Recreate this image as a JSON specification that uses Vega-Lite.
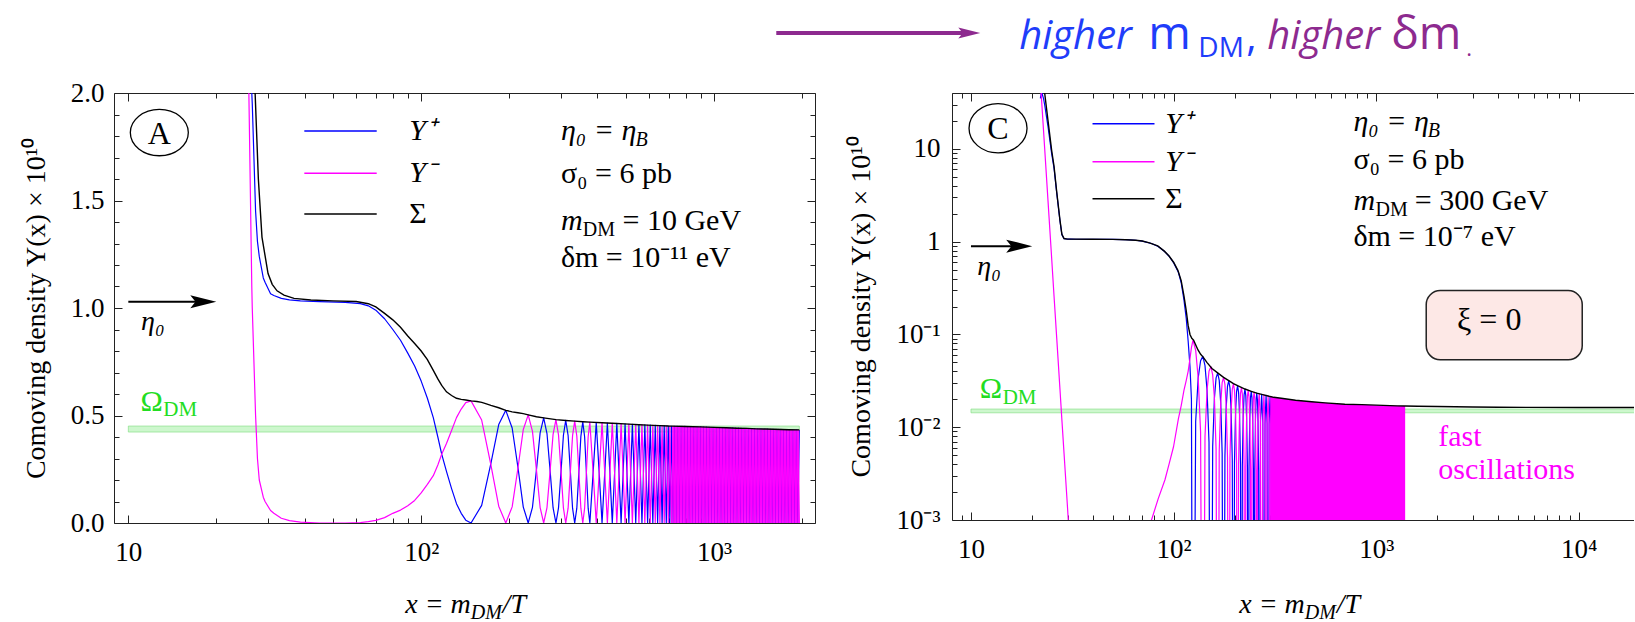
{
"$schema": "https://vega.github.io/schema/vega-lite/v6.json",
"padding": {"left": 21, "top": 12, "right": 0, "bottom": 0},
"background": "white",
"bounds": "flush",
"spacing": 137,
"config": {
 "view": {"stroke": null},
 "axis": {"labelFont": "Liberation Serif", "labelFontSize": 27, "labelColor": "#000", "tickColor": "#222", "tickWidth": 1, "domainColor": "#222", "domainWidth": 1, "grid": false, "labelFlush": false, "labelOverlap": false, "titleFont": "Liberation Serif", "titleFontSize": 28, "titleFontWeight": "normal", "titleColor": "#000"}
},
"datasets": {
"A_pm": [
{"x":22,"p":6,"m":5},{"x":25.8,"p":3.0,"m":2.0},{"x":26.4,"p":2.0,"m":1.1},{"x":26.5,"p":1.95,"m":1.0},{"x":27.2,"p":1.45,"m":0.5},{"x":27.6,"p":1.31,"m":0.3},{"x":28,"p":1.24,"m":0.2},{"x":28.9,"p":1.14,"m":0.12},{"x":29.3,"p":1.12,"m":0.1},{"x":30.6,"p":1.066,"m":0.058},{"x":31.4,"p":1.058,"m":0.045},{"x":33.3,"p":1.045,"m":0.022},{"x":35.5,"p":1.038,"m":0.011},{"x":38.7,"p":1.033,"m":0.004},{"x":45,"p":1.03,"m":0},{"x":55,"p":1.026,"m":0},{"x":62,"p":1.02,"m":0.002},{"x":66,"p":1.01,"m":0.006},{"x":70,"p":0.99,"m":0.012},{"x":75,"p":0.95,"m":0.025},{"x":80,"p":0.9,"m":0.045},{"x":85,"p":0.85,"m":0.06},{"x":90,"p":0.79,"m":0.08},{"x":95,"p":0.73,"m":0.105},{"x":100,"p":0.66,"m":0.14},{"x":105,"p":0.58,"m":0.18},{"x":110,"p":0.49,"m":0.22},{"x":114,"p":0.4,"m":0.27},{"x":117.5,"p":0.32,"m":0.32},{"x":122,"p":0.24,"m":0.37},{"x":127,"p":0.16,"m":0.43},{"x":132,"p":0.09,"m":0.49},{"x":137,"p":0.045,"m":0.53},{"x":142,"p":0.013,"m":0.56},{"x":148,"p":0,"m":0.568},
{"x":160.9,"p":0.082,"m":0.479},{"x":172.8,"p":0.274,"m":0.274},{"x":184,"p":0.458,"m":0.078},{"x":194.5,"p":0.524,"m":0},
{"x":204.5,"p":0.442,"m":0.075},{"x":214.1,"p":0.257,"m":0.257},{"x":223.2,"p":0.074,"m":0.435},{"x":232,"p":0,"m":0.503},
{"x":239.9,"p":0.073,"m":0.426},{"x":247.5,"p":0.247,"m":0.247},{"x":254.8,"p":0.419,"m":0.072},{"x":262,"p":0.489,"m":0},
{"x":268.9,"p":0.416,"m":0.071},{"x":275.6,"p":0.243,"m":0.243},{"x":282.1,"p":0.071,"m":0.412},{"x":288.5,"p":0,"m":0.481},
{"x":294.4,"p":0.07,"m":0.41},{"x":300.3,"p":0.24,"m":0.24},{"x":306,"p":0.408,"m":0.07},{"x":311.6,"p":0.477,"m":0},
{"x":317.5,"p":0.407,"m":0.069},{"x":323.2,"p":0.238,"m":0.238},{"x":328.8,"p":0.069,"m":0.406},{"x":334.4,"p":0,"m":0.474},
{"x":340,"p":0.069,"m":0.404},{"x":345.5,"p":0.236,"m":0.236},{"x":351,"p":0.403,"m":0.069},{"x":356.3,"p":0.471,"m":0},
{"x":361.5,"p":0.401,"m":0.069},{"x":366.6,"p":0.235,"m":0.235},{"x":371.7,"p":0.069,"m":0.401},{"x":376.7,"p":0,"m":0.469},
{"x":386.5,"p":0.234,"m":0.234},{"x":396.1,"p":0.467,"m":0},{"x":405.4,"p":0.233,"m":0.233},{"x":414.6,"p":0,"m":0.466},
{"x":423.5,"p":0.233,"m":0.233},{"x":432.3,"p":0.465,"m":0},{"x":440.9,"p":0.232,"m":0.232},{"x":449.3,"p":0,"m":0.464},
{"x":457.6,"p":0.232,"m":0.232},{"x":465.7,"p":0.463,"m":0},{"x":473.7,"p":0.231,"m":0.231},{"x":481.6,"p":0,"m":0.462},
{"x":489.3,"p":0.231,"m":0.231},{"x":496.9,"p":0.461,"m":0},{"x":504.4,"p":0.23,"m":0.23},{"x":511.8,"p":0,"m":0.46},
{"x":519.1,"p":0.23,"m":0.23},{"x":526.2,"p":0.459,"m":0},{"x":533.4,"p":0.229,"m":0.229},{"x":540.3,"p":0,"m":0.458},
{"x":547.2,"p":0.229,"m":0.229},{"x":554,"p":0.457,"m":0},{"x":560.7,"p":0.228,"m":0.228},{"x":567.4,"p":0,"m":0.457},
{"x":574,"p":0.228,"m":0.228},{"x":580.4,"p":0.456,"m":0},{"x":586.9,"p":0.228,"m":0.228},{"x":593.2,"p":0,"m":0.455},
{"x":605.7,"p":0.455,"m":0},{"x":618,"p":0,"m":0.454},{"x":630,"p":0.454,"m":0},{"x":641.8,"p":0,"m":0.453},{"x":653.4,"p":0.453,"m":0},{"x":664.8,"p":0,"m":0.452},{"x":675.9,"p":0.452,"m":0},{"x":687,"p":0,"m":0.451},{"x":697.8,"p":0.451,"m":0},
{"x":706.6,"p":0,"m":0.451},{"x":715.6,"p":0.45,"m":0},{"x":724.6,"p":0,"m":0.45},{"x":733.8,"p":0.45,"m":0},{"x":743.1,"p":0,"m":0.45},{"x":752.5,"p":0.449,"m":0},{"x":762,"p":0,"m":0.449},{"x":771.6,"p":0.449,"m":0},{"x":781.4,"p":0,"m":0.449},{"x":791.3,"p":0.449,"m":0},{"x":801.3,"p":0,"m":0.449},{"x":811.4,"p":0.448,"m":0},{"x":821.7,"p":0,"m":0.448},{"x":832.1,"p":0.448,"m":0},{"x":842.6,"p":0,"m":0.448},{"x":853.3,"p":0.448,"m":0},{"x":864.1,"p":0,"m":0.447},{"x":875,"p":0.447,"m":0},{"x":886.1,"p":0,"m":0.447},{"x":897.3,"p":0.447,"m":0},{"x":908.6,"p":0,"m":0.447},{"x":920.1,"p":0.446,"m":0},{"x":931.7,"p":0,"m":0.446},{"x":943.5,"p":0.446,"m":0},{"x":955.5,"p":0,"m":0.446},{"x":967.6,"p":0.445,"m":0},{"x":979.8,"p":0,"m":0.445},{"x":992.2,"p":0.445,"m":0},{"x":1004.7,"p":0,"m":0.445},{"x":1017.4,"p":0.444,"m":0},{"x":1030.3,"p":0,"m":0.444},{"x":1043.3,"p":0.444,"m":0},{"x":1056.5,"p":0,"m":0.444},{"x":1069.9,"p":0.443,"m":0},{"x":1083.4,"p":0,"m":0.443},{"x":1097.1,"p":0.443,"m":0},{"x":1111,"p":0,"m":0.443},{"x":1125,"p":0.442,"m":0},{"x":1139.3,"p":0,"m":0.442},{"x":1153.7,"p":0.442,"m":0},{"x":1168.3,"p":0,"m":0.442},{"x":1183,"p":0.441,"m":0},{"x":1198,"p":0,"m":0.441},{"x":1213.2,"p":0.441,"m":0},{"x":1228.5,"p":0,"m":0.441},{"x":1244,"p":0.44,"m":0},{"x":1259.8,"p":0,"m":0.44},{"x":1275.7,"p":0.44,"m":0},{"x":1291.8,"p":0,"m":0.44},{"x":1308.2,"p":0.439,"m":0},{"x":1324.7,"p":0,"m":0.439},{"x":1341.5,"p":0.439,"m":0},{"x":1358.4,"p":0,"m":0.439},{"x":1375.6,"p":0.439,"m":0},{"x":1393,"p":0,"m":0.438},{"x":1410.6,"p":0.438,"m":0},{"x":1428.5,"p":0,"m":0.438},{"x":1446.5,"p":0.438,"m":0},{"x":1464.8,"p":0,"m":0.437},{"x":1483.3,"p":0.437,"m":0},{"x":1502.1,"p":0,"m":0.437},{"x":1521.1,"p":0.437,"m":0},{"x":1540.3,"p":0,"m":0.436},{"x":1559.8,"p":0.436,"m":0},{"x":1579.5,"p":0,"m":0.436},{"x":1599.5,"p":0.436,"m":0},{"x":1619.7,"p":0,"m":0.435},{"x":1640.2,"p":0.435,"m":0},{"x":1660.9,"p":0,"m":0.435},{"x":1681.9,"p":0.435,"m":0},{"x":1703.2,"p":0,"m":0.435},{"x":1724.7,"p":0.434,"m":0},{"x":1746.5,"p":0,"m":0.434},{"x":1768.6,"p":0.434,"m":0},{"x":1791,"p":0,"m":0.434},{"x":1813.7,"p":0.434,"m":0},{"x":1836.6,"p":0,"m":0.433},{"x":1859.8,"p":0.433,"m":0},{"x":1883.4,"p":0,"m":0.433},{"x":1907.2,"p":0.433,"m":0},{"x":1931.3,"p":0,"m":0.433},{"x":1955.7,"p":0.433,"m":0}
],
"A_s": [
{"x":22,"s":8},{"x":26,"s":3.1},{"x":27.1,"s":2.0},{"x":27.8,"s":1.6},{"x":28.6,"s":1.33},{"x":30,"s":1.16},{"x":31,"s":1.11},{"x":32.2,"s":1.08},{"x":34,"s":1.06},{"x":36.8,"s":1.045},{"x":42,"s":1.037},{"x":50,"s":1.033},{"x":60,"s":1.03},{"x":66,"s":1.02},{"x":70,"s":1.005},{"x":75,"s":0.975},{"x":80,"s":0.945},{"x":85,"s":0.91},{"x":90,"s":0.87},{"x":95,"s":0.835},{"x":100,"s":0.8},{"x":105,"s":0.76},{"x":110,"s":0.71},{"x":114,"s":0.67},{"x":117.5,"s":0.64},{"x":122,"s":0.61},{"x":127,"s":0.593},{"x":132,"s":0.58},{"x":137,"s":0.575},{"x":142,"s":0.572},{"x":148,"s":0.568},{"x":155,"s":0.565},{"x":161,"s":0.561},{"x":167,"s":0.554},{"x":173,"s":0.547},{"x":184,"s":0.536},{"x":194.5,"s":0.524},{"x":204.5,"s":0.517},{"x":214,"s":0.513},{"x":223,"s":0.509},{"x":232,"s":0.503},{"x":247.5,"s":0.494},{"x":262,"s":0.489},{"x":288.5,"s":0.481},{"x":311.6,"s":0.477},{"x":334.4,"s":0.474},{"x":356.3,"s":0.471},{"x":376.7,"s":0.469},{"x":414.6,"s":0.466},{"x":465.7,"s":0.463},{"x":511.8,"s":0.46},{"x":554,"s":0.457},{"x":593.2,"s":0.455},{"x":653.4,"s":0.453},{"x":697.8,"s":0.451},{"x":720,"s":0.4505},{"x":800,"s":0.449},{"x":900,"s":0.447},{"x":1000,"s":0.445},{"x":1100,"s":0.443},{"x":1200,"s":0.441},{"x":1300,"s":0.44},{"x":1400,"s":0.438},{"x":1500,"s":0.437},{"x":1600,"s":0.436},{"x":1700,"s":0.435},{"x":1800,"s":0.434},{"x":1955.7,"s":0.433}
],
"C_pm": [
{"x":22,"p":35,"m":55},{"x":22.3,"p":41,"m":34},{"x":22.8,"p":35,"m":16},{"x":23.1,"p":30,"m":10.2},{"x":24,"p":17.4,"m":2.75},{"x":25,"p":9.0,"m":0.68},{"x":25.7,"p":6.2,"m":0.26},{"x":26.5,"p":3.34,"m":0.0913},{"x":27.5,"p":1.67,"m":0.0255},{"x":28.1,"p":1.19,"m":0.012},{"x":28.8,"p":1.075,"m":0.0052},{"x":30,"p":1.064,"m":0.0013},{"x":30.5,"p":1.063,"m":0.0007},{"x":31,"p":1.062,"m":0.0004},{"x":33,"p":1.061,"m":1e-7},{"x":40,"p":1.06,"m":1e-7},{"x":50,"p":1.058,"m":1e-7},{"x":58,"p":1.05,"m":1e-7},{"x":65,"p":1.035,"m":1e-7},{"x":70,"p":1.015,"m":0.0004},{"x":77.8,"p":0.954,"m":0.001},{"x":84,"p":0.888,"m":0.0017},{"x":90.6,"p":0.777,"m":0.0027},{"x":95,"p":0.696,"m":0.004},{"x":100,"p":0.594,"m":0.0062},{"x":105.6,"p":0.468,"m":0.0123},{"x":109,"p":0.363,"m":0.017},{"x":112.5,"p":0.235,"m":0.025},{"x":115.5,"p":0.148,"m":0.032},{"x":118,"p":0.085,"m":0.04},{"x":120.5,"p":0.045,"m":0.055},{"x":122.5,"p":0.02,"m":0.072},{"x":124.7,"p":1e-7,"m":0.087},
{"x":128.55,"p":0.0115,"m":0.0675},{"x":132.29,"p":0.034,"m":0.034},{"x":135.92,"p":0.052,"m":0.0089},{"x":139.46,"p":0.058,"m":1e-7},
{"x":142.92,"p":0.0461,"m":0.0079},{"x":146.29,"p":0.025,"m":0.025},{"x":149.58,"p":0.0069,"m":0.0401},{"x":152.81,"p":1e-7,"m":0.045},
{"x":155.96,"p":0.0062,"m":0.0366},{"x":159.06,"p":0.0206,"m":0.0206},{"x":162.1,"p":0.034,"m":0.0058},{"x":165.08,"p":0.0385,"m":1e-7},
{"x":168,"p":0.032,"m":0.0055},{"x":170.88,"p":0.0183,"m":0.0183},{"x":173.71,"p":0.0052,"m":0.0303},{"x":176.49,"p":1e-7,"m":0.0345},
{"x":179.24,"p":0.0049,"m":0.0289},{"x":181.93,"p":0.0166,"m":0.0166},{"x":184.59,"p":0.0277,"m":0.0047},{"x":187.22,"p":0.0318,"m":1e-7},
{"x":189.8,"p":0.0266,"m":0.0046},{"x":192.35,"p":0.0153,"m":0.0153},{"x":194.87,"p":0.0044,"m":0.0256},{"x":197.36,"p":1e-7,"m":0.0295},
{"x":199.81,"p":0.0042,"m":0.0249},{"x":202.24,"p":0.0144,"m":0.0144},{"x":204.63,"p":0.0243,"m":0.0041},{"x":207,"p":0.028,"m":1e-7},
{"x":209.34,"p":0.0237,"m":0.004},{"x":211.66,"p":0.0137,"m":0.0137},{"x":213.95,"p":0.004,"m":0.0231},{"x":216.22,"p":1e-7,"m":0.0268},
{"x":218.46,"p":0.0039,"m":0.0227},{"x":220.68,"p":0.0132,"m":0.0132},{"x":222.88,"p":0.0223,"m":0.0038},{"x":225.06,"p":0.0258,"m":1e-7},
{"x":227.21,"p":0.0219,"m":0.0037},{"x":229.35,"p":0.0127,"m":0.0127},{"x":231.46,"p":0.0037,"m":0.0215},{"x":233.56,"p":1e-7,"m":0.025},
{"x":235.64,"p":0.0036,"m":0.0212},{"x":237.7,"p":0.0123,"m":0.0123},{"x":239.74,"p":0.0209,"m":0.0036},{"x":241.76,"p":0.0243,"m":1e-7},
{"x":243.77,"p":0.0207,"m":0.0035},{"x":245.76,"p":0.012,"m":0.012},{"x":247.74,"p":0.0035,"m":0.0204},{"x":249.7,"p":1e-7,"m":0.0238},
{"x":251.64,"p":0.0035,"m":0.0202},{"x":253.57,"p":0.0118,"m":0.0118},{"x":255.49,"p":0.02,"m":0.0034},{"x":257.39,"p":0.0233,"m":1e-7},
{"x":259.28,"p":0.0198,"m":0.0034},{"x":261.15,"p":0.0116,"m":0.0116},{"x":263.01,"p":0.0034,"m":0.0196},{"x":264.86,"p":1e-7,"m":0.0229},
{"x":268.51,"p":0.0114,"m":0.0114},{"x":272.12,"p":0.0226,"m":1e-7},{"x":275.68,"p":0.0112,"m":0.0112},{"x":279.2,"p":1e-7,"m":0.0223},{"x":282.67,"p":0.011,"m":0.011},{"x":286.09,"p":0.022,"m":1e-7},{"x":289.48,"p":0.0109,"m":0.0109},{"x":292.83,"p":1e-7,"m":0.0217},{"x":296.14,"p":0.0108,"m":0.0108},{"x":299.42,"p":0.0214,"m":1e-7},{"x":302.65,"p":0.0106,"m":0.0106},{"x":305.86,"p":1e-7,"m":0.0212},{"x":309.03,"p":0.0105,"m":0.0105},{"x":312.17,"p":0.021,"m":1e-7}
],
"C_s": [
{"x":22,"s":90},{"x":22.3,"s":75},{"x":23.1,"s":40},{"x":24,"s":20.2},{"x":25,"s":9.7},{"x":25.7,"s":6.5},{"x":26.5,"s":3.43},{"x":27.5,"s":1.7},{"x":28.1,"s":1.2},{"x":28.8,"s":1.08},{"x":30,"s":1.065},{"x":40,"s":1.06},{"x":50,"s":1.058},{"x":58,"s":1.05},{"x":65,"s":1.035},{"x":70,"s":1.015},{"x":76,"s":0.97},{"x":83.5,"s":0.9},{"x":90,"s":0.79},{"x":95,"s":0.7},{"x":100,"s":0.6},{"x":105,"s":0.49},{"x":109,"s":0.38},{"x":112.5,"s":0.26},{"x":115.5,"s":0.18},{"x":118,"s":0.125},{"x":120.5,"s":0.1},{"x":123,"s":0.091},{"x":125.5,"s":0.087},{"x":128,"s":0.079},{"x":132,"s":0.068},{"x":136,"s":0.061},{"x":140,"s":0.057},{"x":146,"s":0.05},{"x":154.7,"s":0.043},{"x":165,"s":0.0385},{"x":176.5,"s":0.0345},{"x":187.2,"s":0.0318},{"x":197.4,"s":0.0295},{"x":207,"s":0.028},{"x":225,"s":0.0258},{"x":241.8,"s":0.0243},{"x":257.4,"s":0.0233},{"x":272,"s":0.0226},{"x":292.8,"s":0.0217},{"x":300,"s":0.0214},{"x":312,"s":0.021},{"x":340,"s":0.0205},{"x":400,"s":0.0195},{"x":480,"s":0.0188},{"x":560,"s":0.0183},{"x":700,"s":0.0177},{"x":850,"s":0.0175},{"x":1000,"s":0.0173},{"x":1270,"s":0.017},{"x":1390,"s":0.0169},{"x":1600,"s":0.0168},{"x":2000,"s":0.0167},{"x":3000,"s":0.0165},{"x":4000,"s":0.0164},{"x":10000,"s":0.0163},{"x":20000,"s":0.0163}
]
},
"hconcat": [
{
 "width": 701, "height": 430,
 "view": {"stroke": "#222", "strokeWidth": 1},
 "data": {"values": [{}]},
 "resolve": {"axis": {"x": "independent", "y": "independent"}},
 "layer": [
  {"mark": {"type": "rect", "fill": "#90ee90", "fillOpacity": 0.45, "stroke": "#7ddc7d", "strokeOpacity": 0.6, "strokeWidth": 1, "clip": true},
   "encoding": {
    "x": {"datum": 10, "type": "quantitative", "scale": {"type": "log", "domain": [8.935, 2212], "nice": false}, "axis": {"orient": "bottom", "values": [10, 100, 1000], "labelExpr": "datum.value == 10 ? '10' : datum.value == 100 ? '10²' : '10³'", "tickSize": -8, "labelPadding": 24, "domain": false, "title": null}},
    "x2": {"datum": 1955.7},
    "y": {"datum": 0.423, "type": "quantitative", "scale": {"domain": [0, 2], "nice": false, "zero": false}, "axis": {"orient": "left", "values": [0, 0.5, 1, 1.5, 2], "format": ".1f", "tickSize": -8, "labelPadding": 18, "domain": false, "title": "Comoving density  Y(x) × 10¹⁰", "titlePadding": 20}},
    "y2": {"datum": 0.451}}},
  {"data": {"name": "A_pm"}, "mark": {"type": "line", "color": "#0000ff", "strokeWidth": 1.2, "strokeJoin": "round", "clip": true},
   "encoding": {
    "x": {"field": "x", "type": "quantitative", "scale": {"type": "log", "domain": [8.935, 2212], "nice": false}, "axis": {"orient": "bottom", "values": [20,30,40,50,60,70,80,90,200,300,400,500,600,700,800,900,2000], "labels": false, "tickSize": -5, "domain": false, "title": null}},
    "y": {"field": "p", "type": "quantitative", "scale": {"domain": [0, 2], "nice": false, "zero": false}, "axis": {"orient": "left", "values": [0.1,0.2,0.3,0.4,0.6,0.7,0.8,0.9,1.1,1.2,1.3,1.4,1.6,1.7,1.8,1.9], "labels": false, "tickSize": -5, "domain": false, "title": null}}}},
  {"data": {"name": "A_s"}, "transform": [{"filter": "datum.x >= 720"}], "mark": {"type": "area", "color": "#ff00ff", "opacity": 0.8, "clip": true},
   "encoding": {
    "x": {"field": "x", "type": "quantitative", "scale": {"type": "log", "domain": [8.935, 2212], "nice": false}, "axis": null},
    "y": {"field": "s", "type": "quantitative", "scale": {"domain": [0, 2], "nice": false, "zero": false}, "axis": null},
    "y2": {"datum": 0}}},
  {"data": {"name": "A_pm"}, "mark": {"type": "line", "color": "#ff00ff", "strokeWidth": 1.2, "strokeJoin": "round", "clip": true},
   "encoding": {
    "x": {"field": "x", "type": "quantitative", "scale": {"type": "log", "domain": [8.935, 2212], "nice": false}, "axis": {"orient": "top", "values": [10, 100, 1000], "labels": false, "tickSize": -8, "domain": false, "title": null}},
    "y": {"field": "m", "type": "quantitative", "scale": {"domain": [0, 2], "nice": false, "zero": false}, "axis": {"orient": "right", "values": [0, 0.5, 1, 1.5, 2], "labels": false, "tickSize": -8, "domain": false, "title": null}}}},
  {"data": {"name": "A_s"}, "mark": {"type": "line", "color": "#000000", "strokeWidth": 1.4, "clip": true},
   "encoding": {
    "x": {"field": "x", "type": "quantitative", "scale": {"type": "log", "domain": [8.935, 2212], "nice": false}, "axis": {"orient": "top", "values": [20,30,40,50,60,70,80,90,200,300,400,500,600,700,800,900,2000], "labels": false, "tickSize": -5, "domain": false, "title": null}},
    "y": {"field": "s", "type": "quantitative", "scale": {"domain": [0, 2], "nice": false, "zero": false}, "axis": {"orient": "right", "values": [0.1,0.2,0.3,0.4,0.6,0.7,0.8,0.9,1.1,1.2,1.3,1.4,1.6,1.7,1.8,1.9], "labels": false, "tickSize": -5, "domain": false, "title": null}}}},
  {"mark": {"type": "rule", "stroke": "#0000ff", "strokeWidth": 1.5},
   "encoding": {"x": {"datum": 39.9, "type": "quantitative", "scale": {"type": "log", "domain": [8.935, 2212], "nice": false}, "axis": null}, "x2": {"datum": 70.5}, "y": {"datum": 1.823, "type": "quantitative", "scale": {"domain": [0, 2], "nice": false, "zero": false}, "axis": null}}},
  {"mark": {"type": "rule", "stroke": "#ff00ff", "strokeWidth": 1.5},
   "encoding": {"x": {"datum": 39.9, "type": "quantitative", "scale": {"type": "log", "domain": [8.935, 2212], "nice": false}, "axis": null}, "x2": {"datum": 70.5}, "y": {"datum": 1.6265, "type": "quantitative", "scale": {"domain": [0, 2], "nice": false, "zero": false}, "axis": null}}},
  {"mark": {"type": "rule", "stroke": "#000000", "strokeWidth": 1.5},
   "encoding": {"x": {"datum": 39.9, "type": "quantitative", "scale": {"type": "log", "domain": [8.935, 2212], "nice": false}, "axis": null}, "x2": {"datum": 70.5}, "y": {"datum": 1.437, "type": "quantitative", "scale": {"domain": [0, 2], "nice": false, "zero": false}, "axis": null}}},
  {"mark": {"type": "text", "align": "left", "baseline": "middle", "font": "Liberation Serif", "fontSize": 30, "fontStyle": "italic", "color": "#000"},
   "encoding": {"x": {"datum": 91, "type": "quantitative", "scale": {"type": "log", "domain": [8.935, 2212], "nice": false}, "axis": null}, "y": {"datum": 1.823, "type": "quantitative", "scale": {"domain": [0, 2], "nice": false, "zero": false}, "axis": null}, "text": {"value": "Y⁺"}}},
  {"mark": {"type": "text", "align": "left", "baseline": "middle", "font": "Liberation Serif", "fontSize": 30, "fontStyle": "italic", "color": "#000"},
   "encoding": {"x": {"datum": 91, "type": "quantitative", "scale": {"type": "log", "domain": [8.935, 2212], "nice": false}, "axis": null}, "y": {"datum": 1.6265, "type": "quantitative", "scale": {"domain": [0, 2], "nice": false, "zero": false}, "axis": null}, "text": {"value": "Y⁻"}}},
  {"mark": {"type": "text", "align": "left", "baseline": "middle", "font": "Liberation Serif", "fontSize": 30, "color": "#000"},
   "encoding": {"x": {"datum": 91, "type": "quantitative", "scale": {"type": "log", "domain": [8.935, 2212], "nice": false}, "axis": null}, "y": {"datum": 1.437, "type": "quantitative", "scale": {"domain": [0, 2], "nice": false, "zero": false}, "axis": null}, "text": {"value": "Σ"}}},
  {"mark": {"type": "point", "shape": "M-1,0A1,0.8,0,1,0,1,0A1,0.8,0,1,0,-1,0Z", "size": 3364, "filled": false, "stroke": "#000", "strokeWidth": 1.3, "opacity": 1},
   "encoding": {"x": {"datum": 12.76, "type": "quantitative", "scale": {"type": "log", "domain": [8.935, 2212], "nice": false}, "axis": null}, "y": {"datum": 1.816, "type": "quantitative", "scale": {"domain": [0, 2], "nice": false, "zero": false}, "axis": null}}},
  {"mark": {"type": "text", "align": "center", "baseline": "middle", "font": "Liberation Serif", "fontSize": 32, "color": "#000", "dy": 1},
   "encoding": {"x": {"datum": 12.76, "type": "quantitative", "scale": {"type": "log", "domain": [8.935, 2212], "nice": false}, "axis": null}, "y": {"datum": 1.816, "type": "quantitative", "scale": {"domain": [0, 2], "nice": false, "zero": false}, "axis": null}, "text": {"value": "A"}}},
  {"mark": {"type": "text", "align": "left", "baseline": "alphabetic", "font": "Liberation Serif", "fontSize": 30, "fontStyle": "italic", "color": "#000"},
   "encoding": {"x": {"datum": 300, "type": "quantitative", "scale": {"type": "log", "domain": [8.935, 2212], "nice": false}, "axis": null}, "y": {"datum": 1.781, "type": "quantitative", "scale": {"domain": [0, 2], "nice": false, "zero": false}, "axis": null}, "text": {"value": "η₀ = η"}}},
  {"mark": {"type": "text", "align": "left", "baseline": "alphabetic", "font": "Liberation Serif", "fontSize": 20, "fontStyle": "italic", "color": "#000"},
   "encoding": {"x": {"datum": 538.8, "type": "quantitative", "scale": {"type": "log", "domain": [8.935, 2212], "nice": false}, "axis": null}, "y": {"datum": 1.753, "type": "quantitative", "scale": {"domain": [0, 2], "nice": false, "zero": false}, "axis": null}, "text": {"value": "B"}}},
  {"mark": {"type": "text", "align": "left", "baseline": "alphabetic", "font": "Liberation Serif", "fontSize": 30, "color": "#000"},
   "encoding": {"x": {"datum": 300, "type": "quantitative", "scale": {"type": "log", "domain": [8.935, 2212], "nice": false}, "axis": null}, "y": {"datum": 1.58, "type": "quantitative", "scale": {"domain": [0, 2], "nice": false, "zero": false}, "axis": null}, "text": {"value": "σ₀ = 6 pb"}}},
  {"mark": {"type": "text", "align": "left", "baseline": "alphabetic", "font": "Liberation Serif", "fontSize": 30, "fontStyle": "italic", "color": "#000"},
   "encoding": {"x": {"datum": 300, "type": "quantitative", "scale": {"type": "log", "domain": [8.935, 2212], "nice": false}, "axis": null}, "y": {"datum": 1.363, "type": "quantitative", "scale": {"domain": [0, 2], "nice": false, "zero": false}, "axis": null}, "text": {"value": "m"}}},
  {"mark": {"type": "text", "align": "left", "baseline": "alphabetic", "font": "Liberation Serif", "fontSize": 20, "color": "#000"},
   "encoding": {"x": {"datum": 356.5, "type": "quantitative", "scale": {"type": "log", "domain": [8.935, 2212], "nice": false}, "axis": null}, "y": {"datum": 1.336, "type": "quantitative", "scale": {"domain": [0, 2], "nice": false, "zero": false}, "axis": null}, "text": {"value": "DM"}}},
  {"mark": {"type": "text", "align": "left", "baseline": "alphabetic", "font": "Liberation Serif", "fontSize": 30, "color": "#000"},
   "encoding": {"x": {"datum": 487, "type": "quantitative", "scale": {"type": "log", "domain": [8.935, 2212], "nice": false}, "axis": null}, "y": {"datum": 1.363, "type": "quantitative", "scale": {"domain": [0, 2], "nice": false, "zero": false}, "axis": null}, "text": {"value": "= 10 GeV"}}},
  {"mark": {"type": "text", "align": "left", "baseline": "alphabetic", "font": "Liberation Serif", "fontSize": 30, "color": "#000"},
   "encoding": {"x": {"datum": 300, "type": "quantitative", "scale": {"type": "log", "domain": [8.935, 2212], "nice": false}, "axis": null}, "y": {"datum": 1.19, "type": "quantitative", "scale": {"domain": [0, 2], "nice": false, "zero": false}, "axis": null}, "text": {"value": "δm = 10⁻¹¹ eV"}}},
  {"mark": {"type": "rule", "stroke": "#000", "strokeWidth": 2},
   "encoding": {"x": {"datum": 10, "type": "quantitative", "scale": {"type": "log", "domain": [8.935, 2212], "nice": false}, "axis": null}, "x2": {"datum": 18.03}, "y": {"datum": 1.029, "type": "quantitative", "scale": {"domain": [0, 2], "nice": false, "zero": false}, "axis": null}}},
  {"mark": {"type": "point", "shape": "M-1,-0.5L1,0L-1,0.5L-0.6,0Z", "size": 676, "filled": true, "fill": "#000", "opacity": 1},
   "encoding": {"x": {"datum": 18.03, "type": "quantitative", "scale": {"type": "log", "domain": [8.935, 2212], "nice": false}, "axis": null}, "y": {"datum": 1.029, "type": "quantitative", "scale": {"domain": [0, 2], "nice": false, "zero": false}, "axis": null}}},
  {"mark": {"type": "text", "align": "left", "baseline": "middle", "font": "Liberation Serif", "fontSize": 28, "fontStyle": "italic", "color": "#000"},
   "encoding": {"x": {"datum": 11.05, "type": "quantitative", "scale": {"type": "log", "domain": [8.935, 2212], "nice": false}, "axis": null}, "y": {"datum": 0.936, "type": "quantitative", "scale": {"domain": [0, 2], "nice": false, "zero": false}, "axis": null}, "text": {"value": "η₀"}}},
  {"mark": {"type": "text", "align": "left", "baseline": "alphabetic", "font": "Liberation Serif", "fontSize": 30, "color": "#22dd22"},
   "encoding": {"x": {"datum": 11.0, "type": "quantitative", "scale": {"type": "log", "domain": [8.935, 2212], "nice": false}, "axis": null}, "y": {"datum": 0.519, "type": "quantitative", "scale": {"domain": [0, 2], "nice": false, "zero": false}, "axis": null}, "text": {"value": "Ω"}}},
  {"mark": {"type": "text", "align": "left", "baseline": "alphabetic", "font": "Liberation Serif", "fontSize": 21, "color": "#22dd22"},
   "encoding": {"x": {"datum": 13.16, "type": "quantitative", "scale": {"type": "log", "domain": [8.935, 2212], "nice": false}, "axis": null}, "y": {"datum": 0.496, "type": "quantitative", "scale": {"domain": [0, 2], "nice": false, "zero": false}, "axis": null}, "text": {"value": "DM"}}},
  {"mark": {"type": "text", "align": "left", "baseline": "alphabetic", "font": "Liberation Serif", "fontSize": 28, "fontStyle": "italic", "color": "#000"},
   "encoding": {"x": {"datum": 88.2, "type": "quantitative", "scale": {"type": "log", "domain": [8.935, 2212], "nice": false}, "axis": null}, "y": {"datum": -0.417, "type": "quantitative", "scale": {"domain": [0, 2], "nice": false, "zero": false}, "axis": null}, "text": {"value": "x = m"}}},
  {"mark": {"type": "text", "align": "left", "baseline": "alphabetic", "font": "Liberation Serif", "fontSize": 20, "fontStyle": "italic", "color": "#000"},
   "encoding": {"x": {"datum": 147.6, "type": "quantitative", "scale": {"type": "log", "domain": [8.935, 2212], "nice": false}, "axis": null}, "y": {"datum": -0.445, "type": "quantitative", "scale": {"domain": [0, 2], "nice": false, "zero": false}, "axis": null}, "text": {"value": "DM"}}},
  {"mark": {"type": "text", "align": "left", "baseline": "alphabetic", "font": "Liberation Serif", "fontSize": 28, "fontStyle": "italic", "color": "#000"},
   "encoding": {"x": {"datum": 189.7, "type": "quantitative", "scale": {"type": "log", "domain": [8.935, 2212], "nice": false}, "axis": null}, "y": {"datum": -0.417, "type": "quantitative", "scale": {"domain": [0, 2], "nice": false, "zero": false}, "axis": null}, "text": {"value": "/T"}}}
 ]
},
{
 "width": 682, "height": 427,
 "data": {"values": [{}]},
 "resolve": {"axis": {"x": "independent", "y": "independent"}},
 "layer": [
  {"mark": {"type": "rect", "fill": "#90ee90", "fillOpacity": 0.45, "stroke": "#7ddc7d", "strokeOpacity": 0.6, "strokeWidth": 1, "clip": true},
   "encoding": {
    "x": {"datum": 10, "type": "quantitative", "scale": {"type": "log", "domain": [8.06, 18730], "nice": false}, "axis": {"orient": "bottom", "values": [10, 100, 1000, 10000], "labelExpr": "datum.value == 10 ? '10' : datum.value == 100 ? '10²' : datum.value == 1000 ? '10³' : '10⁴'", "tickSize": -8, "labelPadding": 24, "domain": true, "title": null}},
    "x2": {"datum": 20000},
    "y": {"datum": 0.0143, "type": "quantitative", "scale": {"type": "log", "domain": [0.001, 40], "nice": false}, "axis": {"orient": "left", "values": [0.001, 0.01, 0.1, 1, 10], "labelExpr": "datum.value == 10 ? '10' : datum.value == 1 ? '1' : datum.value == 0.1 ? '10⁻¹' : datum.value == 0.01 ? '10⁻²' : '10⁻³'", "tickSize": -8, "labelPadding": 20, "domain": true, "title": "Comoving density  Y(x) × 10¹⁰", "titlePadding": 20}},
    "y2": {"datum": 0.0157}}},
  {"data": {"name": "C_pm"}, "mark": {"type": "line", "color": "#0000ff", "strokeWidth": 1.2, "strokeJoin": "round", "clip": true},
   "encoding": {
    "x": {"field": "x", "type": "quantitative", "scale": {"type": "log", "domain": [8.06, 18730], "nice": false}, "axis": {"orient": "bottom", "values": [9,20,30,40,50,60,70,80,90,200,300,400,500,600,700,800,900,2000,3000,4000,5000,6000,7000,8000,9000], "labels": false, "tickSize": -5, "domain": false, "title": null}},
    "y": {"field": "p", "type": "quantitative", "scale": {"type": "log", "domain": [0.001, 40], "nice": false}, "axis": {"orient": "left", "values": [0.002,0.003,0.004,0.005,0.006,0.007,0.008,0.009,0.02,0.03,0.04,0.05,0.06,0.07,0.08,0.09,0.2,0.3,0.4,0.5,0.6,0.7,0.8,0.9,2,3,4,5,6,7,8,9,20,30,40], "labels": false, "tickSize": -5, "domain": false, "title": null}}}},
  {"data": {"name": "C_pm"}, "mark": {"type": "line", "color": "#ff00ff", "strokeWidth": 1.2, "strokeJoin": "round", "clip": true},
   "encoding": {
    "x": {"field": "x", "type": "quantitative", "scale": {"type": "log", "domain": [8.06, 18730], "nice": false}, "axis": {"orient": "top", "values": [10, 100, 1000, 10000], "labels": false, "tickSize": -8, "domain": true, "title": null}},
    "y": {"field": "m", "type": "quantitative", "scale": {"type": "log", "domain": [0.001, 40], "nice": false}, "axis": null}}},
  {"data": {"name": "C_s"}, "transform": [{"filter": "datum.x >= 300 && datum.x <= 1390"}], "mark": {"type": "area", "color": "#ff00ff", "opacity": 1, "clip": true},
   "encoding": {
    "x": {"field": "x", "type": "quantitative", "scale": {"type": "log", "domain": [8.06, 18730], "nice": false}, "axis": {"orient": "top", "values": [9,20,30,40,50,60,70,80,90,200,300,400,500,600,700,800,900,2000,3000,4000,5000,6000,7000,8000,9000], "labels": false, "tickSize": -5, "domain": false, "title": null}},
    "y": {"field": "s", "type": "quantitative", "scale": {"type": "log", "domain": [0.001, 40], "nice": false}, "axis": null},
    "y2": {"datum": 0.0005}}},
  {"data": {"name": "C_s"}, "mark": {"type": "line", "color": "#000000", "strokeWidth": 1.4, "clip": true},
   "encoding": {
    "x": {"field": "x", "type": "quantitative", "scale": {"type": "log", "domain": [8.06, 18730], "nice": false}, "axis": null},
    "y": {"field": "s", "type": "quantitative", "scale": {"type": "log", "domain": [0.001, 40], "nice": false}, "axis": null}}},
  {"mark": {"type": "rule", "stroke": "#0000ff", "strokeWidth": 1.5},
   "encoding": {"x": {"datum": 39.8, "type": "quantitative", "scale": {"type": "log", "domain": [8.06, 18730], "nice": false}, "axis": null}, "x2": {"datum": 80.5}, "y": {"datum": 18.6, "type": "quantitative", "scale": {"type": "log", "domain": [0.001, 40], "nice": false}, "axis": null}}},
  {"mark": {"type": "rule", "stroke": "#ff00ff", "strokeWidth": 1.5},
   "encoding": {"x": {"datum": 39.8, "type": "quantitative", "scale": {"type": "log", "domain": [8.06, 18730], "nice": false}, "axis": null}, "x2": {"datum": 80.5}, "y": {"datum": 7.25, "type": "quantitative", "scale": {"type": "log", "domain": [0.001, 40], "nice": false}, "axis": null}}},
  {"mark": {"type": "rule", "stroke": "#000000", "strokeWidth": 1.5},
   "encoding": {"x": {"datum": 39.8, "type": "quantitative", "scale": {"type": "log", "domain": [8.06, 18730], "nice": false}, "axis": null}, "x2": {"datum": 80.5}, "y": {"datum": 2.9, "type": "quantitative", "scale": {"type": "log", "domain": [0.001, 40], "nice": false}, "axis": null}}},
  {"mark": {"type": "text", "align": "left", "baseline": "middle", "font": "Liberation Serif", "fontSize": 30, "fontStyle": "italic", "color": "#000"},
   "encoding": {"x": {"datum": 91, "type": "quantitative", "scale": {"type": "log", "domain": [8.06, 18730], "nice": false}, "axis": null}, "y": {"datum": 18.6, "type": "quantitative", "scale": {"type": "log", "domain": [0.001, 40], "nice": false}, "axis": null}, "text": {"value": "Y⁺"}}},
  {"mark": {"type": "text", "align": "left", "baseline": "middle", "font": "Liberation Serif", "fontSize": 30, "fontStyle": "italic", "color": "#000"},
   "encoding": {"x": {"datum": 91, "type": "quantitative", "scale": {"type": "log", "domain": [8.06, 18730], "nice": false}, "axis": null}, "y": {"datum": 7.25, "type": "quantitative", "scale": {"type": "log", "domain": [0.001, 40], "nice": false}, "axis": null}, "text": {"value": "Y⁻"}}},
  {"mark": {"type": "text", "align": "left", "baseline": "middle", "font": "Liberation Serif", "fontSize": 30, "color": "#000"},
   "encoding": {"x": {"datum": 91, "type": "quantitative", "scale": {"type": "log", "domain": [8.06, 18730], "nice": false}, "axis": null}, "y": {"datum": 2.9, "type": "quantitative", "scale": {"type": "log", "domain": [0.001, 40], "nice": false}, "axis": null}, "text": {"value": "Σ"}}},
  {"mark": {"type": "point", "shape": "M-1,0A1,0.85,0,1,0,1,0A1,0.85,0,1,0,-1,0Z", "size": 3364, "filled": false, "stroke": "#000", "strokeWidth": 1.3, "opacity": 1},
   "encoding": {"x": {"datum": 13.6, "type": "quantitative", "scale": {"type": "log", "domain": [8.06, 18730], "nice": false}, "axis": null}, "y": {"datum": 16.7, "type": "quantitative", "scale": {"type": "log", "domain": [0.001, 40], "nice": false}, "axis": null}}},
  {"mark": {"type": "text", "align": "center", "baseline": "middle", "font": "Liberation Serif", "fontSize": 32, "color": "#000", "dy": 1},
   "encoding": {"x": {"datum": 13.6, "type": "quantitative", "scale": {"type": "log", "domain": [8.06, 18730], "nice": false}, "axis": null}, "y": {"datum": 16.7, "type": "quantitative", "scale": {"type": "log", "domain": [0.001, 40], "nice": false}, "axis": null}, "text": {"value": "C"}}},
  {"mark": {"type": "text", "align": "left", "baseline": "alphabetic", "font": "Liberation Serif", "fontSize": 30, "fontStyle": "italic", "color": "#000"},
   "encoding": {"x": {"datum": 771.9, "type": "quantitative", "scale": {"type": "log", "domain": [8.06, 18730], "nice": false}, "axis": null}, "y": {"datum": 15.6, "type": "quantitative", "scale": {"type": "log", "domain": [0.001, 40], "nice": false}, "axis": null}, "text": {"value": "η₀ = η"}}},
  {"mark": {"type": "text", "align": "left", "baseline": "alphabetic", "font": "Liberation Serif", "fontSize": 20, "fontStyle": "italic", "color": "#000"},
   "encoding": {"x": {"datum": 1799, "type": "quantitative", "scale": {"type": "log", "domain": [8.06, 18730], "nice": false}, "axis": null}, "y": {"datum": 13.44, "type": "quantitative", "scale": {"type": "log", "domain": [0.001, 40], "nice": false}, "axis": null}, "text": {"value": "B"}}},
  {"mark": {"type": "text", "align": "left", "baseline": "alphabetic", "font": "Liberation Serif", "fontSize": 30, "color": "#000"},
   "encoding": {"x": {"datum": 771.9, "type": "quantitative", "scale": {"type": "log", "domain": [8.06, 18730], "nice": false}, "axis": null}, "y": {"datum": 6.07, "type": "quantitative", "scale": {"type": "log", "domain": [0.001, 40], "nice": false}, "axis": null}, "text": {"value": "σ₀ = 6 pb"}}},
  {"mark": {"type": "text", "align": "left", "baseline": "alphabetic", "font": "Liberation Serif", "fontSize": 30, "fontStyle": "italic", "color": "#000"},
   "encoding": {"x": {"datum": 771.9, "type": "quantitative", "scale": {"type": "log", "domain": [8.06, 18730], "nice": false}, "axis": null}, "y": {"datum": 2.188, "type": "quantitative", "scale": {"type": "log", "domain": [0.001, 40], "nice": false}, "axis": null}, "text": {"value": "m"}}},
  {"mark": {"type": "text", "align": "left", "baseline": "alphabetic", "font": "Liberation Serif", "fontSize": 20, "color": "#000"},
   "encoding": {"x": {"datum": 992, "type": "quantitative", "scale": {"type": "log", "domain": [8.06, 18730], "nice": false}, "axis": null}, "y": {"datum": 1.894, "type": "quantitative", "scale": {"type": "log", "domain": [0.001, 40], "nice": false}, "axis": null}, "text": {"value": "DM"}}},
  {"mark": {"type": "text", "align": "left", "baseline": "alphabetic", "font": "Liberation Serif", "fontSize": 30, "color": "#000"},
   "encoding": {"x": {"datum": 1550, "type": "quantitative", "scale": {"type": "log", "domain": [8.06, 18730], "nice": false}, "axis": null}, "y": {"datum": 2.188, "type": "quantitative", "scale": {"type": "log", "domain": [0.001, 40], "nice": false}, "axis": null}, "text": {"value": "= 300 GeV"}}},
  {"mark": {"type": "text", "align": "left", "baseline": "alphabetic", "font": "Liberation Serif", "fontSize": 30, "color": "#000"},
   "encoding": {"x": {"datum": 771.9, "type": "quantitative", "scale": {"type": "log", "domain": [8.06, 18730], "nice": false}, "axis": null}, "y": {"datum": 0.898, "type": "quantitative", "scale": {"type": "log", "domain": [0.001, 40], "nice": false}, "axis": null}, "text": {"value": "δm = 10⁻⁷ eV"}}},
  {"mark": {"type": "rule", "stroke": "#000", "strokeWidth": 2},
   "encoding": {"x": {"datum": 10, "type": "quantitative", "scale": {"type": "log", "domain": [8.06, 18730], "nice": false}, "axis": null}, "x2": {"datum": 17.3}, "y": {"datum": 0.894, "type": "quantitative", "scale": {"type": "log", "domain": [0.001, 40], "nice": false}, "axis": null}}},
  {"mark": {"type": "point", "shape": "M-1,-0.5L1,0L-1,0.5L-0.6,0Z", "size": 676, "filled": true, "fill": "#000", "opacity": 1},
   "encoding": {"x": {"datum": 17.3, "type": "quantitative", "scale": {"type": "log", "domain": [8.06, 18730], "nice": false}, "axis": null}, "y": {"datum": 0.894, "type": "quantitative", "scale": {"type": "log", "domain": [0.001, 40], "nice": false}, "axis": null}}},
  {"mark": {"type": "text", "align": "left", "baseline": "middle", "font": "Liberation Serif", "fontSize": 28, "fontStyle": "italic", "color": "#000"},
   "encoding": {"x": {"datum": 10.74, "type": "quantitative", "scale": {"type": "log", "domain": [8.06, 18730], "nice": false}, "axis": null}, "y": {"datum": 0.527, "type": "quantitative", "scale": {"type": "log", "domain": [0.001, 40], "nice": false}, "axis": null}, "text": {"value": "η₀"}}},
  {"mark": {"type": "text", "align": "left", "baseline": "alphabetic", "font": "Liberation Serif", "fontSize": 30, "color": "#22dd22"},
   "encoding": {"x": {"datum": 11.04, "type": "quantitative", "scale": {"type": "log", "domain": [8.06, 18730], "nice": false}, "axis": null}, "y": {"datum": 0.0208, "type": "quantitative", "scale": {"type": "log", "domain": [0.001, 40], "nice": false}, "axis": null}, "text": {"value": "Ω"}}},
  {"mark": {"type": "text", "align": "left", "baseline": "alphabetic", "font": "Liberation Serif", "fontSize": 21, "color": "#22dd22"},
   "encoding": {"x": {"datum": 14.34, "type": "quantitative", "scale": {"type": "log", "domain": [8.06, 18730], "nice": false}, "axis": null}, "y": {"datum": 0.0179, "type": "quantitative", "scale": {"type": "log", "domain": [0.001, 40], "nice": false}, "axis": null}, "text": {"value": "DM"}}},
  {"mark": {"type": "rect", "fill": "#fde8e6", "stroke": "#222", "strokeWidth": 1.5, "cornerRadius": 14},
   "encoding": {"x": {"datum": 1766, "type": "quantitative", "scale": {"type": "log", "domain": [8.06, 18730], "nice": false}, "axis": null}, "x2": {"datum": 10400}, "y": {"datum": 0.0534, "type": "quantitative", "scale": {"type": "log", "domain": [0.001, 40], "nice": false}, "axis": null}, "y2": {"datum": 0.297}}},
  {"mark": {"type": "text", "align": "center", "baseline": "middle", "font": "Liberation Serif", "fontSize": 32, "color": "#000"},
   "encoding": {"x": {"datum": 3614, "type": "quantitative", "scale": {"type": "log", "domain": [8.06, 18730], "nice": false}, "axis": null}, "y": {"datum": 0.144, "type": "quantitative", "scale": {"type": "log", "domain": [0.001, 40], "nice": false}, "axis": null}, "text": {"value": "ξ = 0"}}},
  {"mark": {"type": "text", "align": "left", "baseline": "alphabetic", "font": "Liberation Serif", "fontSize": 30, "color": "#ff00ff"},
   "encoding": {"x": {"datum": 2025, "type": "quantitative", "scale": {"type": "log", "domain": [8.06, 18730], "nice": false}, "axis": null}, "y": {"datum": 0.00625, "type": "quantitative", "scale": {"type": "log", "domain": [0.001, 40], "nice": false}, "axis": null}, "text": {"value": "fast"}}},
  {"mark": {"type": "text", "align": "left", "baseline": "alphabetic", "font": "Liberation Serif", "fontSize": 30, "color": "#ff00ff"},
   "encoding": {"x": {"datum": 2025, "type": "quantitative", "scale": {"type": "log", "domain": [8.06, 18730], "nice": false}, "axis": null}, "y": {"datum": 0.0028, "type": "quantitative", "scale": {"type": "log", "domain": [0.001, 40], "nice": false}, "axis": null}, "text": {"value": "oscillations"}}},
  {"mark": {"type": "text", "align": "left", "baseline": "alphabetic", "font": "Liberation Serif", "fontSize": 28, "fontStyle": "italic", "color": "#000"},
   "encoding": {"x": {"datum": 211, "type": "quantitative", "scale": {"type": "log", "domain": [8.06, 18730], "nice": false}, "axis": null}, "y": {"datum": 0.000099, "type": "quantitative", "scale": {"type": "log", "domain": [0.001, 40], "nice": false}, "axis": null}, "text": {"value": "x = m"}}},
  {"mark": {"type": "text", "align": "left", "baseline": "alphabetic", "font": "Liberation Serif", "fontSize": 20, "fontStyle": "italic", "color": "#000"},
   "encoding": {"x": {"datum": 444.2, "type": "quantitative", "scale": {"type": "log", "domain": [8.06, 18730], "nice": false}, "axis": null}, "y": {"datum": 0.0000853, "type": "quantitative", "scale": {"type": "log", "domain": [0.001, 40], "nice": false}, "axis": null}, "text": {"value": "DM"}}},
  {"mark": {"type": "text", "align": "left", "baseline": "alphabetic", "font": "Liberation Serif", "fontSize": 28, "fontStyle": "italic", "color": "#000"},
   "encoding": {"x": {"datum": 639, "type": "quantitative", "scale": {"type": "log", "domain": [8.06, 18730], "nice": false}, "axis": null}, "y": {"datum": 0.000099, "type": "quantitative", "scale": {"type": "log", "domain": [0.001, 40], "nice": false}, "axis": null}, "text": {"value": "/T"}}},
  {"mark": {"type": "rule", "stroke": "#8d2a8f", "strokeWidth": 4},
   "encoding": {"x": {"datum": 1.094, "type": "quantitative", "scale": {"type": "log", "domain": [8.06, 18730], "nice": false}, "axis": null}, "x2": {"datum": 9.27}, "y": {"datum": 177, "type": "quantitative", "scale": {"type": "log", "domain": [0.001, 40], "nice": false}, "axis": null}}},
  {"mark": {"type": "point", "shape": "M-1,-0.5L1,0L-1,0.5L-0.6,0Z", "size": 484, "filled": true, "fill": "#8d2a8f", "opacity": 1},
   "encoding": {"x": {"datum": 9.81, "type": "quantitative", "scale": {"type": "log", "domain": [8.06, 18730], "nice": false}, "axis": null}, "y": {"datum": 177, "type": "quantitative", "scale": {"type": "log", "domain": [0.001, 40], "nice": false}, "axis": null}}},
  {"mark": {"type": "text", "align": "left", "baseline": "alphabetic", "font": "Open Sans", "fontSize": 40, "fontStyle": "italic", "color": "#1f3dfa"},
   "encoding": {"x": {"datum": 17.3, "type": "quantitative", "scale": {"type": "log", "domain": [8.06, 18730], "nice": false}, "axis": null}, "y": {"datum": 119.1, "type": "quantitative", "scale": {"type": "log", "domain": [0.001, 40], "nice": false}, "axis": null}, "text": {"value": "higher"}}},
  {"mark": {"type": "text", "align": "left", "baseline": "alphabetic", "font": "Open Sans", "fontSize": 46, "color": "#1f3dfa"},
   "encoding": {"x": {"datum": 74.9, "type": "quantitative", "scale": {"type": "log", "domain": [8.06, 18730], "nice": false}, "axis": null}, "y": {"datum": 119.1, "type": "quantitative", "scale": {"type": "log", "domain": [0.001, 40], "nice": false}, "axis": null}, "text": {"value": "m"}}},
  {"mark": {"type": "text", "align": "left", "baseline": "alphabetic", "font": "Open Sans", "fontSize": 28, "color": "#1f3dfa"},
   "encoding": {"x": {"datum": 132.5, "type": "quantitative", "scale": {"type": "log", "domain": [8.06, 18730], "nice": false}, "axis": null}, "y": {"datum": 96.8, "type": "quantitative", "scale": {"type": "log", "domain": [0.001, 40], "nice": false}, "axis": null}, "text": {"value": "DM"}}},
  {"mark": {"type": "text", "align": "left", "baseline": "alphabetic", "font": "Open Sans", "fontSize": 40, "color": "#1f3dfa"},
   "encoding": {"x": {"datum": 228.6, "type": "quantitative", "scale": {"type": "log", "domain": [8.06, 18730], "nice": false}, "axis": null}, "y": {"datum": 113, "type": "quantitative", "scale": {"type": "log", "domain": [0.001, 40], "nice": false}, "axis": null}, "text": {"value": ","}}},
  {"mark": {"type": "text", "align": "left", "baseline": "alphabetic", "font": "Open Sans", "fontSize": 40, "fontStyle": "italic", "color": "#8d2a8f"},
   "encoding": {"x": {"datum": 290, "type": "quantitative", "scale": {"type": "log", "domain": [8.06, 18730], "nice": false}, "axis": null}, "y": {"datum": 119.1, "type": "quantitative", "scale": {"type": "log", "domain": [0.001, 40], "nice": false}, "axis": null}, "text": {"value": "higher"}}},
  {"mark": {"type": "text", "align": "left", "baseline": "alphabetic", "font": "Open Sans", "fontSize": 46, "color": "#8d2a8f"},
   "encoding": {"x": {"datum": 1187, "type": "quantitative", "scale": {"type": "log", "domain": [8.06, 18730], "nice": false}, "axis": null}, "y": {"datum": 119.1, "type": "quantitative", "scale": {"type": "log", "domain": [0.001, 40], "nice": false}, "axis": null}, "text": {"value": "δm"}}},
  {"mark": {"type": "text", "align": "left", "baseline": "alphabetic", "font": "Open Sans", "fontSize": 22, "color": "#8d2a8f"},
   "encoding": {"x": {"datum": 2784, "type": "quantitative", "scale": {"type": "log", "domain": [8.06, 18730], "nice": false}, "axis": null}, "y": {"datum": 99.8, "type": "quantitative", "scale": {"type": "log", "domain": [0.001, 40], "nice": false}, "axis": null}, "text": {"value": "."}}}
 ]
}
]
}
